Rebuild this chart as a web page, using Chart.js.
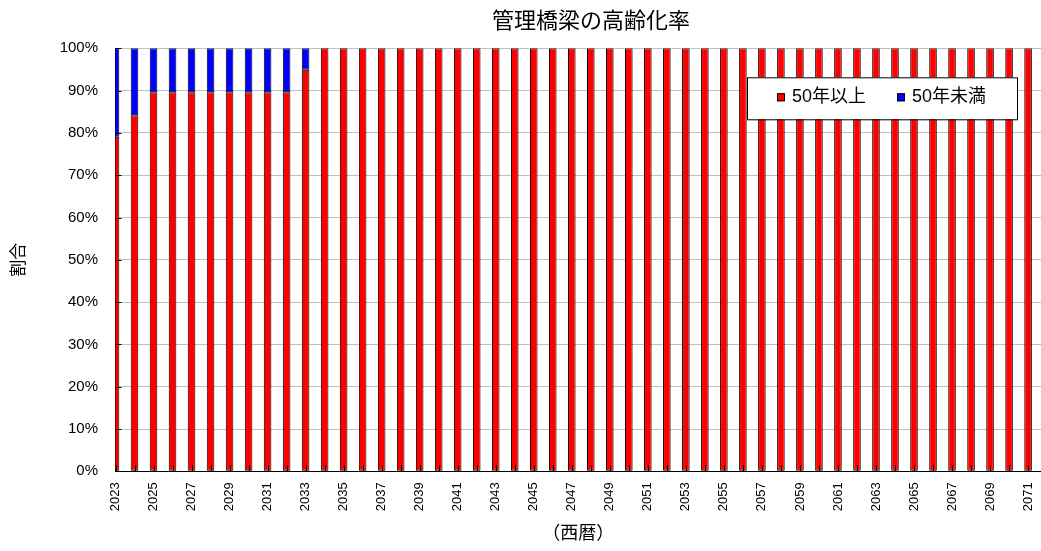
<!DOCTYPE html>
<html>
<head>
<meta charset="utf-8">
<script src="https://cdn.jsdelivr.net/npm/chart.js@4/dist/chart.umd.min.js"></script>
<style>
  html, body { margin: 0; padding: 0; background: #fff; }
  #wrap { width: 1041px; height: 551px; }
</style>
</head>
<body>
<div id="wrap"><canvas id="c"></canvas></div>
<script>
// years on the x axis
const years = [
  2023, 2024, 2025, 2026, 2027, 2028, 2029, 2030, 2031, 2032,
  2033, 2034, 2035, 2036, 2037, 2038, 2039, 2040, 2041, 2042,
  2043, 2044, 2045, 2046, 2047, 2048, 2049, 2050, 2051, 2052,
  2053, 2054, 2055, 2056, 2057, 2058, 2059, 2060, 2061, 2062,
  2063, 2064, 2065, 2066, 2067, 2068, 2069, 2070, 2071
];
// labelled years (every other one)
const tickYears = [
  2023, 2025, 2027, 2029, 2031, 2033, 2035, 2037, 2039, 2041,
  2043, 2045, 2047, 2049, 2051, 2053, 2055, 2057, 2059, 2061,
  2063, 2065, 2067, 2069, 2071
];
// share of bridges 50 years or older (%)
const over50 = [
  79.1, 84.2, 89.6, 89.6, 89.6, 89.6, 89.6, 89.6, 89.6, 89.6,
  94.9, 100, 100, 100, 100, 100, 100, 100, 100, 100,
  100, 100, 100, 100, 100, 100, 100, 100, 100, 100,
  100, 100, 100, 100, 100, 100, 100, 100, 100, 100,
  100, 100, 100, 100, 100, 100, 100, 100, 100
];
// share under 50 years (%)
const under50 = [
  20.9, 15.8, 10.4, 10.4, 10.4, 10.4, 10.4, 10.4, 10.4, 10.4,
  5.1, 0, 0, 0, 0, 0, 0, 0, 0, 0,
  0, 0, 0, 0, 0, 0, 0, 0, 0, 0,
  0, 0, 0, 0, 0, 0, 0, 0, 0, 0,
  0, 0, 0, 0, 0, 0, 0, 0, 0
];

const FONT = "'Liberation Sans', 'Noto Sans CJK JP', sans-serif";
Chart.defaults.font.family = FONT;
Chart.defaults.color = '#000';

// inside tick marks + boxed legend drawn over the bars
const decor = {
  id: 'decor',
  afterLayout(chart) {
    if (chart.titleBlock) chart.titleBlock.left = 141;
  },
  afterDatasetsDraw(chart) {
    const { ctx, chartArea: a, scales: { x, y } } = chart;
    ctx.save();
    ctx.strokeStyle = '#000';
    ctx.lineWidth = 1;
    ctx.beginPath();
    y.ticks.forEach(t => {
      const py = Math.round(y.getPixelForValue(t.value)) + 0.5;
      ctx.moveTo(a.left, py);
      ctx.lineTo(a.left + 6, py);
    });
    years.forEach(yr => {
      const px = Math.round(x.getPixelForValue(yr)) + 0.5;
      if (px < a.left + 1) return;
      ctx.moveTo(px, a.bottom);
      ctx.lineTo(px, a.bottom - 6);
    });
    ctx.stroke();

    // legend
    const L = a.right - 294, T = a.top + 29, W = 270, H = 42;
    ctx.fillStyle = '#fff';
    ctx.fillRect(L, T, W, H);
    ctx.strokeRect(L + 0.5, T + 0.5, W, H);
    ctx.font = '18px ' + FONT;
    ctx.textBaseline = 'middle';
    const cy = T + 20;
    let cx = L + 30;
    chart.data.datasets.forEach(ds => {
      ctx.fillStyle = ds.backgroundColor;
      ctx.fillRect(cx, cy - 4, 8, 8);
      ctx.strokeRect(cx + 0.5, cy - 3.5, 7, 7);
      ctx.fillStyle = '#000';
      ctx.fillText(ds.label, cx + 15, cy);
      cx += 15 + ctx.measureText(ds.label).width + 31;
    });
    ctx.restore();
  }
};

document.addEventListener('DOMContentLoaded', function () {
  const ctx = document.getElementById('c');
  new Chart(ctx, {
    type: 'bar',
    data: {
      labels: years,
      datasets: [
        {
          label: '50年以上',
          data: over50,
          backgroundColor: '#ff0000',
          borderColor: '#000',
          borderWidth: 1,
          borderSkipped: false,
          clip: 0
        },
        {
          label: '50年未満',
          data: under50,
          backgroundColor: '#0000ff',
          borderColor: '#000',
          borderWidth: 1,
          borderSkipped: false,
          clip: 0
        }
      ]
    },
    options: {
      responsive: true,
      maintainAspectRatio: false,
      animation: false,
      barPercentage: 0.4,
      categoryPercentage: 1,
      layout: { padding: 0 },
      plugins: {
        legend: { display: false },
        tooltip: { enabled: false },
        title: {
          display: true,
          text: '管理橋梁の高齢化率',
          color: '#000',
          font: { size: 22, weight: 'normal' },
          padding: { top: 8.5, bottom: 13.4 }
        }
      },
      scales: {
        x: {
          type: 'linear',
          stacked: true,
          offset: false,
          min: 2023,
          max: 2071.68,
          grid: { display: false, drawTicks: false, offset: false },
          border: { color: '#000' },
          afterBuildTicks: s => { s.ticks = tickYears.map(v => ({ value: v })); },
          afterFit: s => { s.height = 79.7; s.paddingLeft = 0; s.paddingRight = 0; },
          ticks: {
            autoSkip: false,
            minRotation: 90,
            maxRotation: 90,
            padding: 11,
            font: { size: 13 },
            callback: v => String(v)
          },
          title: {
            display: true,
            text: '（西暦）',
            font: { size: 18 },
            padding: { top: 0, bottom: 6 }
          }
        },
        y: {
          stacked: true,
          min: 0,
          max: 100,
          grid: { color: '#c0c0c0', drawTicks: false },
          border: { color: '#000' },
          afterFit: s => { s.width = 115.5; },
          ticks: {
            stepSize: 10,
            padding: 17.5,
            font: { size: 15 },
            callback: v => v + '%'
          },
          title: {
            display: true,
            text: '割合',
            font: { size: 17 },
            padding: { top: 9 }
          }
        }
      }
    },
    plugins: [decor]
  });
});
</script>
</body>
</html>
